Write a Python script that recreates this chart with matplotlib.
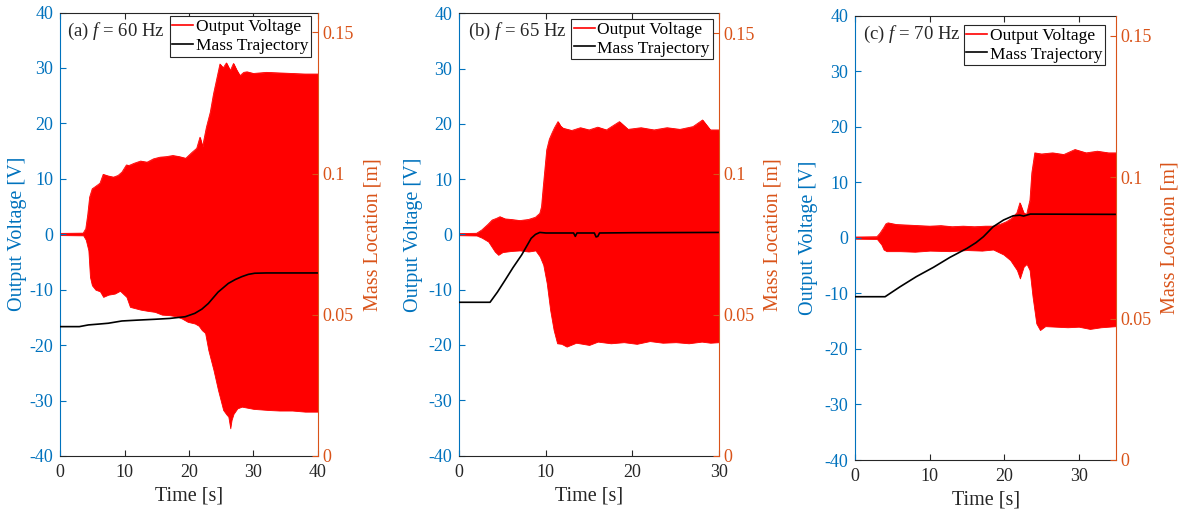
import matplotlib
matplotlib.use("Agg")
import matplotlib.pyplot as plt
import numpy as np

plt.rcParams['font.family'] = ['Liberation Serif', 'DejaVu Serif']
plt.rcParams['mathtext.fontset'] = 'custom'
plt.rcParams['mathtext.rm'] = 'Liberation Serif'
plt.rcParams['mathtext.it'] = 'Liberation Serif:italic'
plt.rcParams['axes.unicode_minus'] = False

# ---------------- data ----------------
# Panel (a) f = 60 Hz : upper / lower envelope of output voltage [V], mass location [m]
a_t_up = [0, 3.6, 4.0, 4.3, 4.6, 5.0, 5.5, 6.2, 6.7, 7.5, 8.3, 9.0, 9.6, 10.3, 10.7, 11.5, 12.5, 13.5,
          14.5, 15.5, 16.5, 17.5, 18.5, 19.5, 20.5, 21.2, 21.7, 22.1, 22.7, 23.3, 23.8, 24.3, 24.8, 25.3,
          25.8, 26.4, 26.9, 27.4, 27.9, 28.5, 29.0, 30, 32, 34, 36, 38, 40]
a_v_up = [0.15, 0.2, 1.0, 3.5, 6.7, 8.2, 8.6, 9.2, 10.8, 10.5, 10.3, 10.6, 11.2, 12.5, 12.4, 12.8, 13.2, 13.0,
          13.6, 13.9, 14.0, 14.2, 14.0, 13.7, 14.8, 15.5, 17.5, 15.8, 19.3, 22.0, 25.3, 28.0, 30.7, 30.0,
          30.9, 29.5, 30.8, 29.6, 28.6, 29.2, 29.3, 29.0, 29.2, 29.1, 29.0, 28.9, 28.9]
a_t_lo = [0, 3.6, 4.0, 4.4, 4.65, 4.95, 5.5, 6.2, 6.7, 7.5, 8.5, 9.3, 10.3, 10.85, 11.5, 12.5, 13.5, 14.7,
          15.8, 17.0, 18.0, 18.9, 19.8, 20.9, 21.5, 22.0, 22.5, 23.0, 23.8, 24.5, 25.3, 25.8, 26.1, 26.4,
          26.6, 26.9, 27.5, 28.2, 30, 32.3, 34, 36, 38, 40]
a_v_lo = [-0.15, -0.2, -1.0, -2.9, -7.7, -9.2, -10.0, -10.3, -11.3, -10.9, -10.7, -10.2, -11.3, -13.1, -13.3,
          -13.6, -13.8, -14.0, -14.5, -14.6, -14.8, -15.2, -15.8, -16.1, -16.5, -17.3, -17.8, -20.9, -24.5,
          -28.1, -31.7, -32.5, -32.9, -35.0, -33.5, -32.4, -31.4, -31.1, -31.5, -31.7, -31.8, -31.8, -32.0, -32.0]
a_t_m = [0, 3.0, 4.4, 6.0, 7.5, 9.6, 12, 14.7, 17, 19.4, 20.9, 22.0, 23.0, 24.5, 26.1, 27.2, 28.2, 29.2,
         30.2, 32, 40]
a_m = [0.0458, 0.0458, 0.0464, 0.0467, 0.0470, 0.0478, 0.0481, 0.0484, 0.0487, 0.0493, 0.0505, 0.052,
       0.054, 0.058, 0.0611, 0.0625, 0.0635, 0.0643, 0.0647, 0.0648, 0.0648]

# Panel (b) f = 65 Hz
b_t_up = [0, 2.0, 2.6, 3.3, 3.8, 4.3, 4.7, 5.3, 6.0, 7.0, 8.0, 8.8, 9.3, 9.5, 9.7, 10.1, 10.4, 10.7, 11.0,
          11.4, 11.7, 12.0, 13, 14, 15, 16, 17, 18.5, 19.5, 21, 22.5, 24, 25.5, 27, 28.1, 29, 30]
b_v_up = [0.15, 0.2, 0.8, 1.8, 2.6, 2.9, 3.2, 2.8, 2.7, 2.5, 2.7, 3.1, 3.8, 5.0, 8.6, 15.3, 17.2, 18.3, 19.3,
          20.4, 19.6, 19.2, 18.8, 19.3, 18.9, 19.4, 18.9, 20.4, 19.0, 19.3, 18.9, 19.3, 19.0, 19.5, 20.7,
          18.9, 18.9]
b_t_lo = [0, 2.0, 2.6, 3.35, 4.1, 4.5, 5.0, 6.0, 7.0, 8.0, 8.8, 9.3, 9.7, 10.1, 10.5, 10.9, 11.3, 11.8,
          12.4, 13.5, 15, 16, 17.5, 19, 20.5, 22, 23.5, 25, 26.5, 28, 29, 30]
b_v_lo = [-0.15, -0.2, -0.6, -1.3, -3.1, -3.7, -3.2, -3.0, -2.9, -3.1, -2.9, -4.0, -5.5, -8.8, -13.7, -17.3,
          -19.7, -19.8, -20.3, -19.6, -20.0, -19.4, -19.7, -19.5, -19.8, -19.3, -19.6, -19.5, -19.7, -19.4,
          -19.6, -19.5]
b_t_m = [0, 3.55, 4.4, 5.3, 6.2, 7.2, 8.3, 8.8, 9.3, 10, 13.2, 13.4, 13.6, 15.6, 15.8, 16.0, 16.2, 20, 30]
b_m = [0.0544, 0.0544, 0.058, 0.0623, 0.0667, 0.0712, 0.0771, 0.0785, 0.0792, 0.0790, 0.0790, 0.0778,
       0.0790, 0.0790, 0.0776, 0.0778, 0.0790, 0.0791, 0.0792]

# Panel (c) f = 70 Hz
c_t_up = [0, 2.9, 3.3, 3.8, 4.1, 4.4, 5.5, 7, 8.5, 10, 11.5, 13, 14.5, 16, 17.5, 18.5, 19.4, 20.3, 21.0,
          21.7, 22.1, 22.6, 23.0, 23.45, 23.7, 24.1, 25, 26.5, 28, 29.5, 31, 32.5, 34, 35]
c_v_up = [0.15, 0.2, 0.8, 1.8, 2.5, 2.7, 2.4, 2.3, 2.2, 2.1, 2.2, 2.0, 2.1, 2.0, 2.1, 2.1, 2.4, 2.9, 3.5,
          4.5, 6.3, 4.5, 4.2, 6.8, 11.7, 15.3, 15.1, 15.3, 15.0, 15.9, 15.3, 15.6, 15.3, 15.3]
c_t_lo = [0, 2.9, 3.5, 3.8, 4.2, 6, 8, 10, 12.7, 15, 17, 18.5, 19.9, 20.8, 21.7, 22.1, 22.6, 23.0, 23.4,
          23.8, 24.3, 24.8, 25.5, 27, 28.5, 30, 31.5, 33, 35]
c_v_lo = [-0.15, -0.2, -1.2, -2.1, -2.4, -2.4, -2.5, -2.3, -2.4, -2.2, -2.3, -2.1, -3.0, -4.0, -5.8, -7.3,
          -5.2, -4.7, -5.8, -10.6, -15.4, -16.6, -15.9, -16.0, -16.1, -16.0, -16.4, -16.1, -15.9]
c_t_m = [0, 4.0, 6.0, 8.2, 10.5, 12.7, 15.0, 16.2, 17.2, 18.5, 19.9, 21.2, 22.1, 22.6, 23.5, 35]
c_m = [0.0577, 0.0577, 0.0612, 0.0648, 0.0681, 0.0716, 0.0748, 0.0768, 0.0789, 0.0824, 0.0848, 0.0863,
       0.0865, 0.0862, 0.0869, 0.0868]

titles = [r"(a) $f$ = 60 Hz", r"(b) $f$ = 65 Hz", r"(c) $f$ = 70 Hz"]
xlims = [40, 30, 35]
v_ticks = [-40, -30, -20, -10, 0, 10, 20, 30, 40]
m_ticks = [0, 0.05, 0.1, 0.15]
m_tick_labels = ["0", "0.05", "0.1", "0.15"]
legend_labels = ["Output Voltage", "Mass Trajectory"]

panels = [
    (a_t_up, a_v_up, a_t_lo, a_v_lo, a_t_m, a_m),
    (b_t_up, b_v_up, b_t_lo, b_v_lo, b_t_m, b_m),
    (c_t_up, c_v_up, c_t_lo, c_v_lo, c_t_m, c_m),
]

# ---------------- layout / style ----------------
BLUE = '#0072BD'
ORANGE = '#D95319'
DARK = '#262626'
RED = '#FF0000'

fig = plt.figure(figsize=(11.92, 5.16), dpi=100)
W, H = 1192, 516
boxes = [(60, 318, 12.5, 456), (459.3, 719, 13.3, 455.5), (855.3, 1116, 15.7, 460)]
leg_anchor = [(0.973, 0.991), (0.975, 0.987), (0.957, 0.979)]
title_pos = [(0.026, 0.957), (0.035, 0.958), (0.028, 0.958)]
left_lab_x = [-0.128, -0.14, -0.143]
right_lab_x = [1.175, 1.17, 1.17]

for i, (tu, vu, tl, vl, tm, mm) in enumerate(panels):
    x0, x1, y0, y1 = boxes[i]
    ax = fig.add_axes([x0 / W, (H - y1) / H, (x1 - x0) / W, (y1 - y0) / H])
    ax2 = ax.twinx()

    # envelope of the oscillating voltage signal
    tgrid = np.union1d(tu, tl)
    up = np.interp(tgrid, tu, vu)
    lo = np.interp(tgrid, tl, vl)
    ax.fill_between(tgrid, lo, up, color=RED, lw=0.6, edgecolor=RED)
    hv, = ax.plot(tu, vu, color=RED, lw=0.6)

    hm, = ax2.plot(tm, mm, color='black', lw=1.2)

    ax.set_xlim(0, xlims[i])
    ax.set_ylim(-40, 40)
    ax2.set_ylim(0, 0.157)
    ax.set_xticks(list(range(0, xlims[i] + 1, 10)))
    ax.set_yticks(v_ticks)
    ax.set_yticklabels([str(v) for v in v_ticks])
    ax2.set_yticks(m_ticks)
    ax2.set_yticklabels(m_tick_labels)

    ax.tick_params(axis='x', direction='in', top=True, length=4, width=0.8,
                   colors=DARK, labelsize=13, pad=6)
    ax.tick_params(axis='y', direction='in', length=4, width=0.8, colors=BLUE,
                   labelsize=13, pad=5)
    ax2.tick_params(axis='y', direction='in', length=4, width=0.8, colors=ORANGE,
                    labelsize=13, pad=3.5)

    for s in ['top', 'bottom']:
        ax.spines[s].set_color(DARK)
        ax.spines[s].set_linewidth(0.8)
    ax.spines['left'].set_color(BLUE)
    ax.spines['left'].set_linewidth(0.8)
    ax.spines['right'].set_visible(False)
    for s in ['top', 'bottom', 'left']:
        ax2.spines[s].set_visible(False)
    ax2.spines['right'].set_color(ORANGE)
    ax2.spines['right'].set_linewidth(0.8)

    ax.set_xlabel("Time [s]", fontsize=14.5, color=DARK, labelpad=4)
    ax.set_ylabel("Output Voltage [V]", fontsize=14.5, color=BLUE)
    ax.yaxis.set_label_coords(left_lab_x[i], 0.5)
    ax2.set_ylabel("Mass Location [m]", fontsize=14.5, color=ORANGE, rotation=90)
    ax2.yaxis.set_label_coords(right_lab_x[i], 0.5)

    ax.text(title_pos[i][0], title_pos[i][1], titles[i], transform=ax.transAxes,
            fontsize=13.5, color=DARK, ha='left', va='center')

    leg = ax2.legend([hv, hm], legend_labels, loc='upper right',
                     bbox_to_anchor=leg_anchor[i], borderaxespad=0,
                     fontsize=12.5, frameon=True, fancybox=False, framealpha=1,
                     edgecolor=DARK, borderpad=0.15, labelspacing=0.15,
                     handlelength=1.2, handletextpad=0.15)
    leg.get_frame().set_linewidth(0.8)
    for h in leg.get_lines():
        h.set_linewidth(1.2)

fig.savefig("out.png", dpi=100)
